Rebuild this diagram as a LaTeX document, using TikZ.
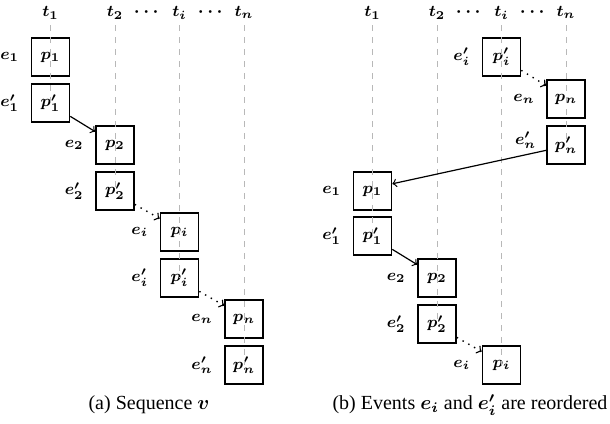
\documentclass[tikz,border=0pt]{standalone}
\usepackage{amsmath}
\usepackage[no-math]{fontspec}
\setmainfont{Liberation Serif}
\newcommand{\bs}[1]{\boldsymbol{#1}}
\begin{document}
\begin{tikzpicture}[x=0.5pt,y=-0.5pt,
  every node/.append style={font=\footnotesize},
  box/.style={draw, line width=0.8pt, minimum size=19pt, inner sep=0pt},
  evlab/.style={label={[label distance=2.3pt]left:#1}},
  evlabup/.style={label={[label distance=1.5pt, yshift=2.5pt]left:#1}},
  tlab/.style={anchor=base, inner sep=0pt},
  dotslab/.style={anchor=base, inner sep=0pt, font=\small},
  guide/.style={draw=black!28, line width=0.5pt, dash pattern=on 3pt off 3pt},
  solidarr/.style={->, line width=0.6pt},
  dotarr/.style={->, line width=0.7pt, dash pattern=on 0.7pt off 2.6pt},
  captext/.style={font=\normalsize}]
\useasboundingbox (0,0) rectangle (610,423);
% ---------- panel (a) ----------
\node[tlab] (ta1) at (50.5,17) {$\bs{t_1}$};
\node[tlab] (ta2) at (115,17) {$\bs{t_2}$};
\node[dotslab] (tad1) at (148,17) {$\bs{\cdots}$};
\node[tlab] (tai) at (179.5,17) {$\bs{t_i}$};
\node[dotslab] (tad2) at (212,17) {$\bs{\cdots}$};
\node[tlab] (tan) at (244,17) {$\bs{t_n}$};
\node[box, evlab={$\bs{e_1}$}] (a1) at (50.5,57) {$\bs{p_1}$};
\node[box, evlab={$\bs{e'_1}$}] (a1p) at (50.5,103) {$\bs{p'_1}$};
\node[box, evlab={$\bs{e_2}$}] (a2) at (115,145) {$\bs{p_2}$};
\node[box, evlab={$\bs{e'_2}$}] (a2p) at (115,191) {$\bs{p'_2}$};
\node[box, evlab={$\bs{e_i}$}] (ai) at (179.5,232) {$\bs{p_i}$};
\node[box, evlab={$\bs{e'_i}$}] (aip) at (179.5,278) {$\bs{p'_i}$};
\node[box, evlab={$\bs{e_n}$}] (an) at (244,319) {$\bs{p_n}$};
\node[box, evlab={$\bs{e'_n}$}] (anp) at (244,365) {$\bs{p'_n}$};
\path[guide] ([yshift=-4pt]ta1.base) -- (a1p.center);
\path[guide] ([yshift=-4pt]ta2.base) -- (a2p.center);
\path[guide] ([yshift=-4pt]tai.base) -- (aip.center);
\path[guide] ([yshift=-4pt]tan.base) -- (anp.center);
\draw[solidarr] (a1p.-34) -- (a2.146);
\draw[dotarr] (a2p.-34) -- (ai.146);
\draw[dotarr] (aip.-34) -- (an.146);
\node[captext] (capa) at (149,405) {(a) Sequence $\bs{v}$};
% ---------- panel (b) ----------
\node[tlab] (tb1) at (372.5,17) {$\bs{t_1}$};
\node[tlab] (tb2) at (437,17) {$\bs{t_2}$};
\node[dotslab] (tbd1) at (470,17) {$\bs{\cdots}$};
\node[tlab] (tbi) at (501.5,17) {$\bs{t_i}$};
\node[dotslab] (tbd2) at (534,17) {$\bs{\cdots}$};
\node[tlab] (tbn) at (566,17) {$\bs{t_n}$};
\node[box, evlab={$\bs{e'_i}$}] (bip) at (501.5,57) {$\bs{p'_i}$};
\node[box, evlab={$\bs{e_n}$}] (bn) at (566,99) {$\bs{p_n}$};
\node[box, evlabup={$\bs{e'_n}$}] (bnp) at (566,145) {$\bs{p'_n}$};
\node[box, evlab={$\bs{e_1}$}] (b1) at (372.5,191) {$\bs{p_1}$};
\node[box, evlab={$\bs{e'_1}$}] (b1p) at (372.5,236) {$\bs{p'_1}$};
\node[box, evlab={$\bs{e_2}$}] (b2) at (437,278) {$\bs{p_2}$};
\node[box, evlab={$\bs{e'_2}$}] (b2p) at (437,324) {$\bs{p'_2}$};
\node[box, evlab={$\bs{e_i}$}] (bi) at (501.5,365) {$\bs{p_i}$};
\path[guide] ([yshift=-4pt]tb1.base) -- (b1p.center);
\path[guide] ([yshift=-4pt]tb2.base) -- (b2p.center);
\path[guide] ([yshift=-4pt]tbi.base) -- (bi.center);
\path[guide] ([yshift=-4pt]tbn.base) -- (bnp.center);
\draw[dotarr] (bip.-34) -- (bn.146);
\draw[solidarr] (bnp.-165) -- (b1.20);
\draw[solidarr] (b1p.-34) -- (b2.146);
\draw[dotarr] (b2p.-34) -- (bi.146);
\node[captext] (capb) at (470,405) {(b) Events $\bs{e_i}$ and $\bs{e'_i}$ are reordered};
\end{tikzpicture}
\end{document}
